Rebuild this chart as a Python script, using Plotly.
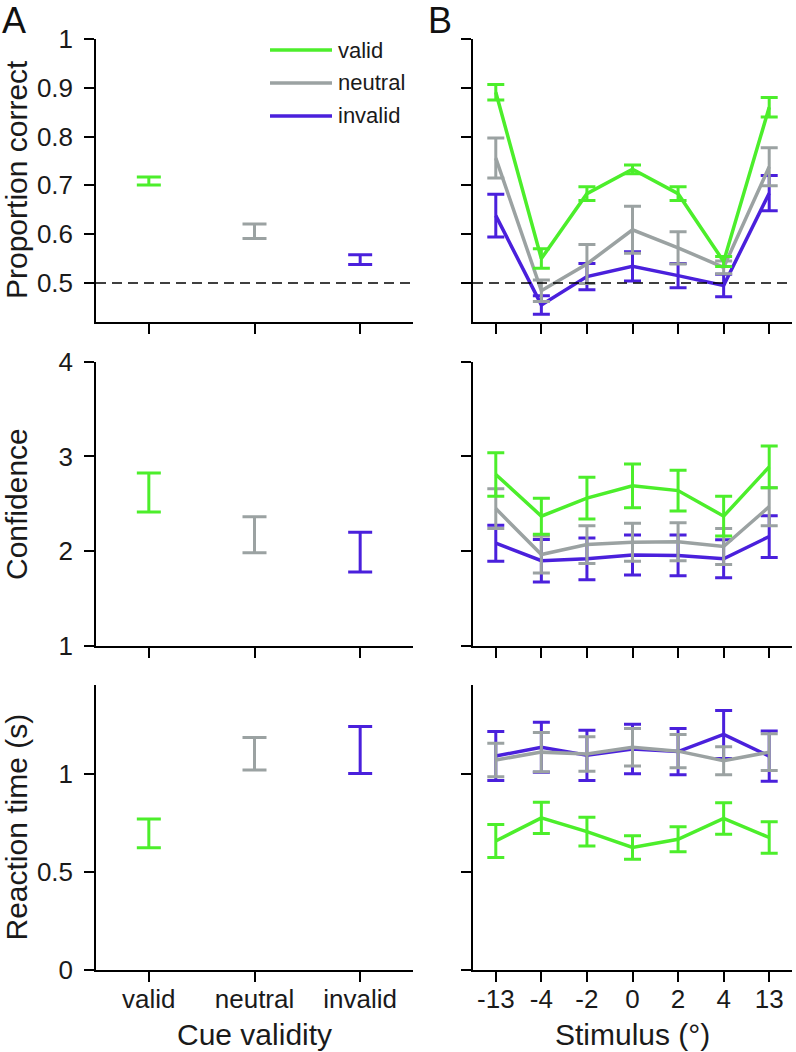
import plotly.graph_objects as go

# ---------------- data ----------------
cues = ["valid", "neutral", "invalid"]
stimulus = ["-13", "-4", "-2", "0", "2", "4", "13"]

acc_cue_mean = [0.709, 0.606, 0.548]
acc_cue_err = [0.008, 0.015, 0.010]
conf_cue_mean = [2.62, 2.175, 1.99]
conf_cue_err = [0.205, 0.19, 0.21]
rt_cue_mean = [0.696, 1.102, 1.121]
rt_cue_err = [0.073, 0.083, 0.12]

acc_valid = [0.891, 0.550, 0.683, 0.733, 0.683, 0.544, 0.860]
acc_valid_err = [0.016, 0.020, 0.014, 0.009, 0.014, 0.010, 0.020]
acc_neutral = [0.756, 0.484, 0.539, 0.609, 0.572, 0.532, 0.738]
acc_neutral_err = [0.041, 0.022, 0.040, 0.048, 0.033, 0.013, 0.039]
acc_invalid = [0.638, 0.455, 0.513, 0.534, 0.515, 0.495, 0.684]
acc_invalid_err = [0.044, 0.019, 0.027, 0.030, 0.025, 0.023, 0.036]

conf_valid = [2.81, 2.37, 2.56, 2.69, 2.64, 2.37, 2.89]
conf_valid_err = [0.23, 0.19, 0.22, 0.23, 0.215, 0.21, 0.22]
conf_neutral = [2.45, 1.965, 2.07, 2.095, 2.10, 2.05, 2.47]
conf_neutral_err = [0.21, 0.195, 0.20, 0.20, 0.20, 0.19, 0.20]
conf_invalid = [2.085, 1.90, 1.92, 1.96, 1.955, 1.92, 2.155]
conf_invalid_err = [0.19, 0.225, 0.22, 0.21, 0.215, 0.20, 0.22]

rt_valid = [0.657, 0.775, 0.705, 0.624, 0.666, 0.772, 0.675]
rt_valid_err = [0.084, 0.080, 0.073, 0.060, 0.064, 0.080, 0.080]
rt_neutral = [1.07, 1.11, 1.10, 1.135, 1.115, 1.066, 1.11]
rt_neutral_err = [0.085, 0.100, 0.088, 0.096, 0.085, 0.071, 0.094]
rt_invalid = [1.09, 1.135, 1.094, 1.126, 1.113, 1.20, 1.09]
rt_invalid_err = [0.125, 0.127, 0.128, 0.126, 0.118, 0.122, 0.128]

acc_ticks = [0.5, 0.6, 0.7, 0.8, 0.9, 1]
acc_ticktext = ["0.5", "0.6", "0.7", "0.8", "0.9", "1"]
conf_ticks = [1, 2, 3, 4]
rt_ticks = [0, 0.5, 1]
rt_ticktext = ["0", "0.5", "1"]

# ---------------- style ----------------
GREEN = "#4CEE2B"
GRAY = "#9BA2A2"
PURPLE = "#4A20DC"
cue_colors = [GREEN, GRAY, PURPLE]
FONT = "Liberation Sans, Arial, Helvetica, sans-serif"
TXT = "#1a1a1a"
W, H = 796, 1052

def px_x(p):
    return p / W

def px_y(p):
    return 1 - p / H

fig = go.Figure()

# left panels: one error bar per cue
left_sets = [
    ("x", "y", acc_cue_mean, acc_cue_err),
    ("x3", "y3", conf_cue_mean, conf_cue_err),
    ("x5", "y5", rt_cue_mean, rt_cue_err),
]
for xa, ya, mean, err in left_sets:
    for c, m, e, col in zip(cues, mean, err, cue_colors):
        fig.add_trace(go.Scatter(
            x=[c], y=[m], mode="markers", xaxis=xa, yaxis=ya,
            marker=dict(size=2, color=col, opacity=0),
            error_y=dict(type="data", array=[e], color=col, thickness=3, width=12),
            showlegend=False, hoverinfo="skip",
        ))

# right panels: lines with error bars
right_sets = [
    ("x2", "y2", [(acc_invalid, acc_invalid_err, PURPLE), (acc_neutral, acc_neutral_err, GRAY), (acc_valid, acc_valid_err, GREEN)]),
    ("x4", "y4", [(conf_invalid, conf_invalid_err, PURPLE), (conf_neutral, conf_neutral_err, GRAY), (conf_valid, conf_valid_err, GREEN)]),
    ("x6", "y6", [(rt_invalid, rt_invalid_err, PURPLE), (rt_neutral, rt_neutral_err, GRAY), (rt_valid, rt_valid_err, GREEN)]),
]
for xa, ya, series in right_sets:
    for vals, errs, col in series:
        fig.add_trace(go.Scatter(
            x=stimulus, y=vals, mode="lines", xaxis=xa, yaxis=ya,
            line=dict(color=col, width=3.5),
            error_y=dict(type="data", array=errs, color=col, thickness=3, width=8.5),
            showlegend=False, hoverinfo="skip",
        ))

xl = [px_x(96), px_x(413)]
xr = [px_x(473), px_x(792)]
yt = [px_y(322), px_y(39)]
ym = [px_y(646), px_y(361.7)]
yb = [px_y(970), px_y(685)]

axis_common = dict(showline=True, linecolor="black", linewidth=1.5, ticks="outside",
                   ticklen=10, tickwidth=1.5, tickcolor="black", showgrid=False,
                   zeroline=False, mirror=False, automargin=False,
                   tickfont=dict(family=FONT, size=26, color=TXT))

def xcat(domain, anchor, cats, show):
    d = dict(axis_common)
    d.update(domain=domain, anchor=anchor, type="category", categoryorder="array",
             categoryarray=cats, range=[-0.5, len(cats) - 0.5], showticklabels=show,
             ticklabelstandoff=-5)
    return d

def yax(domain, anchor, rng, vals, text, show):
    d = dict(axis_common)
    d.update(domain=domain, anchor=anchor, range=rng, tickvals=vals, ticktext=text,
             showticklabels=show, ticklabelstandoff=6)
    return d

fig.update_layout(
    width=W, height=H,
    margin=dict(l=0, r=0, t=0, b=0, pad=0, autoexpand=False),
    paper_bgcolor="white", plot_bgcolor="white",
    font=dict(family=FONT, color=TXT),
    showlegend=False,
    xaxis=xcat(xl, "y", cues, False),
    yaxis=yax(yt, "x", [0.42, 1.0], acc_ticks, acc_ticktext, True),
    xaxis2=xcat(xr, "y2", stimulus, False),
    yaxis2=yax(yt, "x2", [0.42, 1.0], acc_ticks, acc_ticktext, False),
    xaxis3=xcat(xl, "y3", cues, False),
    yaxis3=yax(ym, "x3", [1, 4], conf_ticks, [str(v) for v in conf_ticks], True),
    xaxis4=xcat(xr, "y4", stimulus, False),
    yaxis4=yax(ym, "x4", [1, 4], conf_ticks, None, False),
    xaxis5=xcat(xl, "y5", cues, True),
    yaxis5=yax(yb, "x5", [0, 1.452], rt_ticks, rt_ticktext, True),
    xaxis6=xcat(xr, "y6", stimulus, True),
    yaxis6=yax(yb, "x6", [0, 1.452], rt_ticks, None, False),
)

# chance lines
for xr_ref, yr_ref in [("x domain", "y"), ("x2 domain", "y2")]:
    fig.add_shape(type="line", xref=xr_ref, yref=yr_ref, x0=0, x1=1, y0=0.5, y1=0.5,
                  line=dict(color="black", width=1.5, dash="10px,6px"))

# legend (manual)
legend_rows = [("valid", GREEN, 50), ("neutral", GRAY, 83), ("invalid", PURPLE, 116)]
for label, col, py in legend_rows:
    fig.add_shape(type="line", xref="paper", yref="paper", x0=px_x(270), x1=px_x(332),
                  y0=px_y(py), y1=px_y(py), line=dict(color=col, width=3.5))
    fig.add_annotation(x=px_x(336), y=px_y(py), xref="paper", yref="paper", text=label,
                       showarrow=False, xanchor="left", yanchor="middle",
                       font=dict(family=FONT, size=22, color=TXT))

# axis titles
titles = [
    ("Proportion correct", 16, 180, -90),
    ("Confidence", 16, 504, -90),
    ("Reaction time (s)", 16, 827.5, -90),
    ("Cue validity", 254, 1034, 0),
    ("Stimulus (°)", 632, 1034, 0),
]
for txt, px, py, ang in titles:
    fig.add_annotation(x=px_x(px), y=px_y(py), xref="paper", yref="paper", text=txt,
                       showarrow=False, xanchor="center", yanchor="middle", textangle=ang,
                       font=dict(family=FONT, size=30, color=TXT))

# panel letters
for txt, px, py in [("A", 14, 20), ("B", 440, 20)]:
    fig.add_annotation(x=px_x(px), y=px_y(py), xref="paper", yref="paper", text=txt,
                       showarrow=False, xanchor="center", yanchor="middle",
                       font=dict(family=FONT, size=36, color="#111111"))

fig.write_html("out.html", config={"displayModeBar": False},
               post_script="document.body.style.margin='0px';")
